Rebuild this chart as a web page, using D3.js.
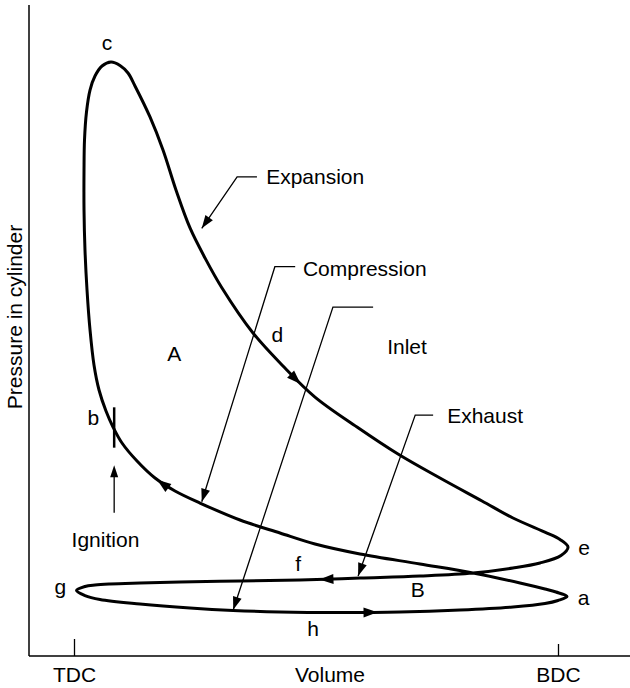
<!DOCTYPE html>
<html>
<head>
<meta charset="utf-8">
<script src="https://cdn.jsdelivr.net/npm/d3@7/dist/d3.min.js"></script>
<style>
  html, body { margin: 0; padding: 0; background: #fff; }
  svg { display: block; }
  text { font-family: "Liberation Sans", Arial, Helvetica, sans-serif; fill: #000; }
</style>
</head>
<body>
<svg id="chart" width="630" height="688"></svg>
<script>
// Indicator diagram of a four-stroke engine: pressure vs. volume,
// volume in % of stroke (TDC = 0, BDC = 100), pressure in % of scale.

// Compression stroke a -> b -> c
const compression = [
  [101.86, 9.14], [99.59, 9.83], [97.31, 10.29], [92.15, 11.21], [82.44, 12.75],
  [71.49, 14.13], [59.09, 15.67], [49.79, 17.20], [42.56, 18.89], [34.30, 20.89],
  [26.03, 23.50], [20.87, 25.35], [16.74, 27.34], [13.02, 29.95], [9.92, 32.72],
  [8.06, 35.18], [6.61, 37.63], [5.17, 40.86], [4.13, 44.70], [3.31, 50.08],
  [2.69, 56.22], [2.27, 62.37], [2.07, 68.51], [2.07, 74.65], [2.17, 79.26],
  [2.58, 83.56], [3.31, 86.94], [4.34, 89.09], [5.79, 90.63], [7.64, 91.24]
];
// Expansion stroke c -> d -> e
const expansion = [
  [9.50, 90.71], [11.16, 89.55], [12.60, 87.56], [15.70, 82.80], [18.39, 77.73],
  [21.07, 71.58], [23.97, 65.75], [27.07, 61.14], [30.58, 56.53], [36.98, 49.62],
  [43.18, 44.55], [49.79, 39.78], [58.47, 35.18], [66.94, 31.03], [75.62, 27.34],
  [84.30, 23.81], [90.70, 21.20], [97.73, 18.89], [100.41, 17.90], [102.07, 16.74]
];
// Exhaust stroke e -> f -> g
const exhaust = [
  [100.62, 15.44], [96.28, 14.29], [90.70, 13.52], [82.44, 12.75], [71.49, 12.29],
  [59.09, 11.98], [46.69, 11.67], [34.30, 11.52], [21.90, 11.37], [13.64, 11.21],
  [7.44, 11.06], [4.34, 10.91], [2.27, 10.68], [0.52, 10.06]
];
// Inlet stroke g -> h -> a
const inlet = [
  [2.27, 9.29], [5.37, 8.68], [13.64, 7.99], [23.97, 7.37], [32.85, 6.99],
  [42.56, 6.76], [54.96, 6.68], [67.36, 6.76], [79.75, 7.07], [90.70, 7.53],
  [97.31, 8.06], [100.0, 8.53]
];

// Direction arrows on the cycle (tip positions)
const flowArrows = [[17.1, 27.0], [46.7, 41.6], [50.8, 11.8], [62.8, 6.9]];

// Point and area labels
const pointLabels = [
  { t: "c", v: 6.8, p: 93.1 }, { t: "d", v: 42.0, p: 48.2 },
  { t: "A", v: 20.7, p: 45.3 }, { t: "b", v: 4.0, p: 35.5 },
  { t: "f", v: 46.3, p: 13.1 }, { t: "g", v: -2.8, p: 9.5 },
  { t: "B", v: 71.0, p: 9.1 }, { t: "h", v: 49.4, p: 3.1 },
  { t: "e", v: 105.4, p: 15.5 }, { t: "a", v: 105.3, p: 7.8 }
];

// Stroke callouts: text anchor, then elbow leader ending at an arrow tip
const callouts = [
  { t: "Expansion",   text: [39.7, 72.5], path: [[37.8, 73.6], [33.7, 73.6], [26.4, 65.7]] },
  { t: "Compression", text: [47.3, 58.4], path: [[45.7, 59.8], [41.5, 59.8], [26.4, 23.7]] },
  { t: "Inlet",       text: [64.7, 46.4], path: [[61.8, 53.6], [53.5, 53.6], [32.9, 7.1]] },
  { t: "Exhaust",     text: [77.1, 35.8], path: [[74.2, 37.0], [70.5, 37.0], [58.7, 12.3]] }
];

// Ignition at b
const ignitionVolume = 8.3;
const ignitionBar = [32.0, 38.2];
const ignitionArrow = [22.0, 29.3];
const ignitionText = [6.5, 16.7];

// Volume axis ticks
const tickValues = [0, 100];
const tickLabels = ["TDC", "BDC"];

const svg = d3.select("#chart");
const frame = { left: 29, top: 5, bottom: 656, right: 630 };

const x = d3.scaleLinear().domain([0, 100]).range([74, 558]);
const y = d3.scaleLinear().domain([0, 100]).range([frame.bottom, frame.top]);

// axes
svg.append("line")
  .attr("x1", frame.left).attr("x2", frame.left)
  .attr("y1", frame.top).attr("y2", frame.bottom)
  .attr("stroke", "#000").attr("stroke-width", 1.5);
svg.append("line")
  .attr("x1", frame.left).attr("x2", frame.right)
  .attr("y1", frame.bottom).attr("y2", frame.bottom)
  .attr("stroke", "#000").attr("stroke-width", 1.5);

const xAxis = svg.append("g")
  .attr("transform", `translate(0,${frame.bottom})`)
  .call(d3.axisBottom(x).tickValues(tickValues)
    .tickFormat((d, i) => tickLabels[i]).tickSizeInner(-17).tickSizeOuter(0));
xAxis.select(".domain").remove();
xAxis.selectAll(".tick line")
  .attr("stroke", "#000").attr("stroke-width", 1.3)
  .attr("y2", (d, i) => i === 0 ? -17 : -12);
xAxis.selectAll(".tick text")
  .attr("y", 26).attr("dy", null)
  .style("font-size", "21px").style("font-family", null).attr("fill", "#000");

svg.append("text")
  .attr("x", 330).attr("y", 682)
  .attr("text-anchor", "middle").style("font-size", "21px")
  .text("Volume");

svg.append("text")
  .attr("transform", "translate(22,317) rotate(-90)")
  .attr("text-anchor", "middle").style("font-size", "21px")
  .text("Pressure in cylinder");

// cycle curve
const cycle = compression.concat(expansion, exhaust, inlet);
const line = d3.line()
  .x(d => x(d[0])).y(d => y(d[1]))
  .curve(d3.curveCatmullRomClosed.alpha(0.5));
const cyclePath = svg.append("path")
  .attr("d", line(cycle))
  .attr("fill", "none").attr("stroke", "#000")
  .attr("stroke-width", 3).attr("stroke-linejoin", "round");

// arrowhead helper: tip at (tx,ty), pointing along angle a
function arrowHead(tx, ty, a, len, half) {
  const c = Math.cos(a), s = Math.sin(a);
  const bx = tx - c * len, by = ty - s * len;
  return `M${tx},${ty}L${bx - s * half},${by + c * half}L${bx + s * half},${by - c * half}Z`;
}

// flow arrows follow the drawn path direction
const node = cyclePath.node();
const total = node.getTotalLength();
const samples = d3.range(0, total, 1).map(l => {
  const pt = node.getPointAtLength(l);
  return { l, x: pt.x, y: pt.y };
});
flowArrows.forEach(([v, p]) => {
  const px = x(v), py = y(p);
  const best = d3.least(samples, s => (s.x - px) ** 2 + (s.y - py) ** 2);
  const p0 = node.getPointAtLength(Math.max(0, best.l - 3));
  const p1 = node.getPointAtLength(Math.min(total, best.l + 3));
  const ang = Math.atan2(p1.y - p0.y, p1.x - p0.x);
  svg.append("path")
    .attr("d", arrowHead(best.x, best.y, ang, 14, 5))
    .attr("fill", "#000");
});

// callouts
callouts.forEach(c => {
  const pts = c.path.map(d => [x(d[0]), y(d[1])]);
  svg.append("path")
    .attr("d", d3.line()(pts))
    .attr("fill", "none").attr("stroke", "#000").attr("stroke-width", 1.3);
  const [ax, ay] = pts[pts.length - 2];
  const [tx, ty] = pts[pts.length - 1];
  const ang = Math.atan2(ty - ay, tx - ax);
  svg.append("path")
    .attr("d", arrowHead(tx, ty, ang, 13, 4.5))
    .attr("fill", "#000");
  svg.append("text")
    .attr("x", x(c.text[0])).attr("y", y(c.text[1]))
    .style("font-size", "21px")
    .text(c.t);
});

// ignition marker
svg.append("line")
  .attr("x1", x(ignitionVolume)).attr("x2", x(ignitionVolume))
  .attr("y1", y(ignitionBar[0])).attr("y2", y(ignitionBar[1]))
  .attr("stroke", "#000").attr("stroke-width", 2.5);
svg.append("line")
  .attr("x1", x(ignitionVolume)).attr("x2", x(ignitionVolume))
  .attr("y1", y(ignitionArrow[0])).attr("y2", y(ignitionArrow[1]) + 8)
  .attr("stroke", "#000").attr("stroke-width", 1.3);
svg.append("path")
  .attr("d", arrowHead(x(ignitionVolume), y(ignitionArrow[1]), -Math.PI / 2, 12, 4))
  .attr("fill", "#000");
svg.append("text")
  .attr("x", x(ignitionText[0])).attr("y", y(ignitionText[1]))
  .attr("text-anchor", "middle").style("font-size", "21px")
  .text("Ignition");

// point labels
svg.selectAll("text.pt")
  .data(pointLabels)
  .join("text")
  .attr("class", "pt")
  .attr("x", d => x(d.v)).attr("y", d => y(d.p))
  .attr("text-anchor", "middle").style("font-size", "21px")
  .text(d => d.t);
</script>
</body>
</html>
